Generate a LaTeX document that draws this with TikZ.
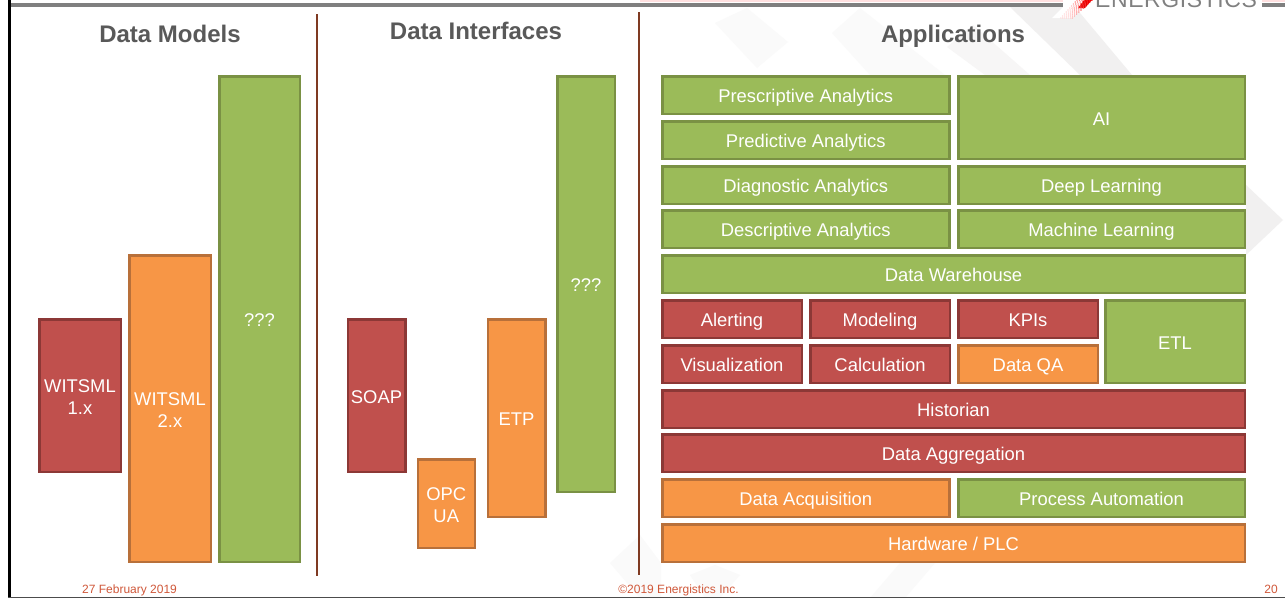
\documentclass[tikz,border=0pt]{standalone}
\usepackage{fontspec}
\setmainfont{Liberation Sans}
\definecolor{grfill}{HTML}{9BBB59}
\definecolor{grline}{HTML}{7A9144}
\definecolor{rdfill}{HTML}{C0504D}
\definecolor{rdline}{HTML}{8C3836}
\definecolor{orfill}{HTML}{F79646}
\definecolor{orline}{HTML}{B8703A}
\definecolor{divcol}{HTML}{7F3A22}
\definecolor{ttl}{HTML}{595959}
\definecolor{foot}{HTML}{D0583A}
\definecolor{wmA}{HTML}{F1F0F0}
\definecolor{wmB}{HTML}{FAFAFA}
\definecolor{rulecol}{HTML}{7F7F7F}
\newcommand{\st}{\rule[-2.5pt]{0pt}{20.5pt}}
\newcommand{\bx}[7]{%
  \pgfmathsetmacro{\bxw}{#4-#2-2.5}\pgfmathsetmacro{\bxh}{#5-#3-2.5}%
  \node[#6,minimum width=\bxw pt,minimum height=\bxh pt] (#1) at ({(#2+#4)/2},{(#3+#5)/2}) {#7};}
\tikzset{
  box/.style={line width=2.5pt,text=white,font=\fontsize{18.4}{22}\selectfont,align=center,inner sep=0pt,outer sep=0pt},
  gr/.style={box,fill=grfill,draw=grline},
  rd/.style={box,fill=rdfill,draw=rdline},
  or/.style={box,fill=orfill,draw=orline},
  title/.style={font=\bfseries\fontsize{24}{28}\selectfont,text=ttl,inner sep=0pt,anchor=base},
  foottext/.style={font=\fontsize{12}{14}\selectfont,text=foot,inner sep=0pt},
  divider/.style={line width=2pt,draw=divcol},
}
\begin{document}
\begin{tikzpicture}[x=1pt,y=-1pt]
\useasboundingbox (0,0) rectangle (1285,598);
\fill[white] (0,0) rectangle (1285,598);
% watermark
\fill[wmB] (715,23) -- (747,8) -- (788,42) -- (757,68) -- cycle;
\fill[wmB] (832,33) -- (860,8) -- (945,75) -- (870,75) -- cycle;
\fill[wmA!60!white] (947,47) -- (973,25) -- (1030,75) -- (985,75) -- cycle;
\fill[wmA] (1010,7) -- (1075,7) -- (1132,75) -- (1080,75) -- cycle;
\fill[wmA] (1246,185) -- (1283,220) -- (1246,255) -- cycle;
\fill[wmB] (610,563) -- (640,535) -- (661,563) -- (661,598) -- (640,598) -- cycle;
\fill[wmB] (690,575) -- (715,565) -- (740,575) -- (720,598) -- (705,598) -- cycle;
\fill[wmB] (870,598) -- (900,563) -- (935,563) -- (905,598) -- cycle;
% frame
\fill[black] (8,0) rectangle (10.5,598);
\fill[rulecol] (10.5,3) rectangle (1285,7);
\fill[black!70] (8,597) rectangle (1285,598);
\fill[red!12] (640,0) rectangle (1285,2.2);
% logo
\fill[white] (1063,0) rectangle (1262,8.5);
\fill[white] (1052,18) -- (1070,0) -- (1090,0) -- (1072,18) -- cycle;
\begin{scope}
  \clip (1090,0) rectangle (1262,8);
  \node[anchor=base west,inner sep=0pt,text=gray,font=\fontsize{23}{26}\selectfont] (logotext) at (1095,7.5) {\addfontfeature{LetterSpace=2.5}ENERGISTICS};
\end{scope}
\fill[red!90!black] (1084,0) -- (1092,0) -- (1085,8) -- (1078,8) -- cycle;
\foreach \r in {0,2,...,18}{
  \foreach \t in {0,1,...,6}{
    \pgfmathsetmacro{\dx}{1077-0.9*\r+\t*(15-0.2*\r)/6}
    \pgfmathsetmacro{\pct}{max(15,100-\r*4-(6-\t)*8)}
    \fill[red!\pct!white] (\dx,\r) circle (0.8);
  }
}
% dividers
\coordinate (d1t) at (316.5,14); \coordinate (d1b) at (316.5,576);
\coordinate (d2t) at (639,12);   \coordinate (d2b) at (639,575);
\draw[divider] (d1t) -- (d1b);
\draw[divider] (d2t) -- (d2b);
% titles
\node[title] (t1) at (170,42) {Data Models};
\node[title] (t2) at (476,39.5) {Data Interfaces};
\node[title] (t3) at (953,42) {Applications};
% data models
\bx{wa}{38}{318}{122}{473}{rd}{WITSML\st\\1.x\st}
\bx{wb}{128}{254}{212}{563}{or}{WITSML\st\\2.x\st}
\bx{wc}{218}{75}{301}{563}{gr}{???\st}
% data interfaces
\bx{soap}{346.5}{318}{406.5}{473}{rd}{SOAP\st}
\bx{opc}{416.5}{458}{476}{549}{or}{OPC\st\\UA\st}
\bx{etp}{486.5}{318}{546.5}{518}{or}{ETP\st}
\bx{ifq}{556}{75}{616}{493}{gr}{???\st}
% applications
\bx{presc}{661}{75}{950.5}{115}{gr}{Prescriptive Analytics\st}
\bx{pred}{661}{120}{950.5}{160}{gr}{Predictive Analytics\st}
\bx{diag}{661}{165}{950.5}{205}{gr}{Diagnostic Analytics\st}
\bx{desc}{661}{209}{950.5}{249}{gr}{Descriptive Analytics\st}
\bx{ai}{957}{75}{1246}{160}{gr}{AI\st}
\bx{deep}{957}{165}{1246}{205}{gr}{Deep Learning\st}
\bx{ml}{957}{209}{1246}{249}{gr}{Machine Learning\st}
\bx{dw}{661}{254}{1246}{294}{gr}{Data Warehouse\st}
\bx{alert}{661}{299}{803}{339}{rd}{Alerting\st}
\bx{model}{809}{299}{951}{339}{rd}{Modeling\st}
\bx{kpi}{957}{299}{1099}{339}{rd}{KPIs\st}
\bx{etl}{1104}{299}{1246}{384}{gr}{ETL\st}
\bx{vis}{661}{344}{803}{384}{rd}{Visualization\st}
\bx{calc}{809}{344}{951}{384}{rd}{Calculation\st}
\bx{dqa}{957}{344}{1099}{384}{or}{Data QA\st}
\bx{hist}{661}{389}{1246}{429}{rd}{Historian\st}
\bx{agg}{661}{433}{1246}{473}{rd}{Data Aggregation\st}
\bx{acq}{661}{478}{950.5}{518}{or}{Data Acquisition\st}
\bx{proc}{957}{478}{1246}{518}{gr}{Process Automation\st}
\bx{hw}{661}{523}{1246}{563}{or}{Hardware / PLC\st}
% footer
\node[foottext,anchor=base west] (f1) at (82,593.5) {27 February 2019};
\node[foottext,anchor=base] (f2) at (678.5,593.5) {©2019 Energistics Inc.};
\node[foottext,anchor=base east] (f3) at (1278,593.5) {20};
\end{tikzpicture}
\end{document}
